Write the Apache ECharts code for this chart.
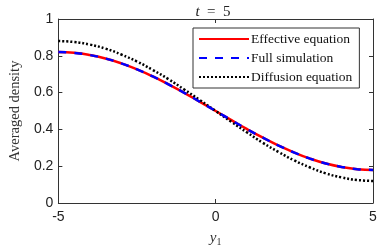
<!DOCTYPE html>
<html><head><meta charset="utf-8">
<script src="https://cdn.jsdelivr.net/npm/echarts@6/dist/echarts.min.js"></script>
<style>html,body{margin:0;padding:0;background:#fff}#c{width:382px;height:252px}</style>
</head><body><div id="c"></div>
<script>
var yPos = [-5,-4.5,-4,-3.5,-3,-2.5,-2,-1.5,-1,-0.5,0,0.5,1,1.5,2,2.5,3,3.5,4,4.5,5];
var effective = [0.820,0.816,0.804,0.785,0.759,0.726,0.688,0.645,0.599,0.550,0.500,0.450,0.401,0.355,0.312,0.274,0.241,0.215,0.196,0.184,0.180];
var fullSim   = [0.820,0.816,0.804,0.785,0.759,0.726,0.688,0.645,0.599,0.550,0.500,0.450,0.401,0.355,0.312,0.274,0.241,0.215,0.196,0.184,0.180];
var diffusion = [0.880,0.875,0.861,0.839,0.807,0.769,0.723,0.673,0.617,0.559,0.500,0.441,0.383,0.327,0.277,0.231,0.193,0.161,0.139,0.125,0.120];
var xTicks = [-5,0,5];
var yTicks = [0,0.2,0.4,0.6,0.8,1];
var seriesNames = ['Effective equation','Full simulation','Diffusion equation'];

function pairs(v){ return yPos.map(function(x,i){return [x,v[i]];}); }
var axisColor = '#333';
var chart = echarts.init(document.getElementById('c'));
function boxAxis(extra){
  return Object.assign({type:'value',
     axisLine:{show:true, onZero:false, lineStyle:{color:axisColor, width:1}},
     axisTick:{show:true, inside:true, length:4, lineStyle:{color:axisColor}},
     axisLabel:{show:false}, splitLine:{show:false}}, extra);
}
chart.setOption({
  animation:false,
  title:{text:'{i|t}{n|  =  5}', left:208, top:0, textAlign:'center',
    textStyle:{fontFamily:'Liberation Serif', fontSize:15, fontWeight:'normal', color:'#222',
      rich:{i:{fontStyle:'italic', fontFamily:'Liberation Serif', fontSize:15, color:'#222'},
            n:{fontFamily:'Liberation Serif', fontSize:15, color:'#222'}}}},
  grid:{left:45, right:9, top:19, bottom:45},
  legend:{orient:'vertical', left:193, top:28, itemWidth:50, itemHeight:10, itemGap:5,
    padding:[4,7,4,5], backgroundColor:'#fff', borderColor:'#333', borderWidth:1,
    itemStyle:{opacity:0},
    textStyle:{fontFamily:'Liberation Serif', fontSize:13.5, color:'#111', padding:[0,0,0,-3]},
    data:seriesNames},
  xAxis:[
    boxAxis({min:-5, max:5, interval:5, position:'bottom',
     name:'{i|y}{s|1}', nameLocation:'middle', nameGap:27,
     nameTextStyle:{rich:{i:{fontFamily:'Liberation Serif', fontStyle:'italic', fontSize:15, color:'#333'},
                          s:{fontFamily:'Liberation Serif', fontSize:10, color:'#333', verticalAlign:'bottom', padding:[7,0,0,0]}}},
     axisLabel:{show:true, fontFamily:'Liberation Sans', fontSize:14, color:'#222', margin:7,
       formatter:function(v){return xTicks.indexOf(v)>=0 ? String(v) : '';}}}),
    boxAxis({min:-5, max:5, interval:5, position:'top'})
  ],
  yAxis:[
    boxAxis({min:0, max:1, interval:0.2, position:'left',
     name:'Averaged density', nameLocation:'middle', nameGap:35,
     nameTextStyle:{fontFamily:'Liberation Serif', fontSize:14.5, color:'#333'},
     axisLabel:{show:true, fontFamily:'Liberation Sans', fontSize:14, color:'#222', margin:5,
       formatter:function(v){var r=Math.round(v*10)/10; return yTicks.indexOf(r)>=0 ? String(r) : '';}}}),
    boxAxis({min:0, max:1, interval:0.2, position:'right'})
  ],
  series:[
    {name:seriesNames[0], type:'line', data:pairs(effective), smooth:true, symbol:'none',
     lineStyle:{color:'#ff0000', width:2.5}, itemStyle:{color:'#ff0000'}, z:2},
    {name:seriesNames[1], type:'line', data:pairs(fullSim), smooth:true, symbol:'none',
     lineStyle:{color:'#0000ff', width:2.5, type:[8,8]}, itemStyle:{color:'#0000ff'}, z:3},
    {name:seriesNames[2], type:'line', data:pairs(diffusion), smooth:true, symbol:'none',
     lineStyle:{color:'#000000', width:2.5, type:[2,2]}, itemStyle:{color:'#000'}, z:2}
  ]
});
</script></body></html>
